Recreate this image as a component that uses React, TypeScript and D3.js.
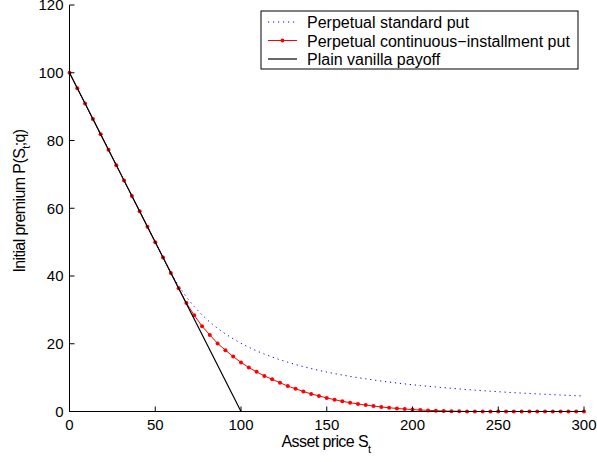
import React from 'react';
import * as d3 from 'd3';

const width = 597;
const height = 462;
const margin = { left: 69.5, right: 13, top: 5, bottom: 50.5 };

// asset price grid: 67 points from 0 to 300
const assetPrices = d3.range(67).map(i => (i * 300) / 66);

const standardPut = [
  100, 95.45, 90.91, 86.36, 81.82, 77.27, 72.73, 68.18, 63.64, 59.09, 54.55, 50.0, 45.45,
  40.96, 37.06, 33.76, 30.95, 28.52, 26.4, 24.54, 22.9, 21.44, 20.13, 18.96, 17.9, 16.94,
  16.07, 15.27, 14.54, 13.87, 13.25, 12.67, 12.14, 11.65, 11.19, 10.76, 10.36, 9.98, 9.63,
  9.3, 8.98, 8.69, 8.41, 8.15, 7.9, 7.66, 7.44, 7.23, 7.02, 6.83, 6.65, 6.47, 6.3, 6.14,
  5.99, 5.84, 5.7, 5.57, 5.44, 5.31, 5.2, 5.08, 4.97, 4.86, 4.76, 4.66, 4.57
];

const installmentPut = [
  100, 95.45, 90.91, 86.36, 81.82, 77.27, 72.73, 68.18, 63.64, 59.09, 54.55, 50.0, 45.45,
  40.91, 36.4, 32.0, 28.4, 25.2, 22.6, 20.1, 18.1, 16.2, 14.5, 13.0, 11.7, 10.5, 9.5, 8.5,
  7.5, 6.7, 5.9, 5.2, 4.6, 4.0, 3.5, 3.0, 2.6, 2.25, 1.9, 1.6, 1.35, 1.1, 0.9, 0.72, 0.57,
  0.44, 0.33, 0.24, 0.16, 0.1, 0.05, 0.02, 0, 0, 0, 0, 0, 0, 0, 0, 0, 0, 0, 0, 0, 0, 0
];

const payoffS = [0, 100, 300];
const payoffV = [100, 0, 0];

const xTicks = [0, 50, 100, 150, 200, 250, 300];
const yTicks = [0, 20, 40, 60, 80, 100, 120];

const legendLabels = [
  'Perpetual standard put',
  'Perpetual continuous\u2212installment put',
  'Plain vanilla payoff'
];

const font = '"Liberation Sans", Arial, Helvetica, sans-serif';

export default function App() {
  const x = d3.scaleLinear().domain([0, 300]).range([margin.left, width - margin.right]);
  const y = d3.scaleLinear().domain([0, 120]).range([height - margin.bottom, margin.top]);

  const line = d3
    .line<[number, number]>()
    .x(d => x(d[0]))
    .y(d => y(d[1]));

  const bluePts = assetPrices.map((s, i) => [s, standardPut[i]] as [number, number]);
  const redPts = assetPrices.map((s, i) => [s, installmentPut[i]] as [number, number]);
  const blackPts = payoffS.map((s, i) => [s, payoffV[i]] as [number, number]);

  const x0 = x(0);
  const y0 = y(0);

  const lg = { x: 261, y: 11, w: 317, h: 58 };
  const rowY = [22, 40.5, 59];

  return (
    <svg
      width={width}
      height={height}
      style={{ position: 'absolute', left: 0, top: 0, background: '#fff' }}
      fontFamily={font}
    >
      <rect width={width} height={height} fill="#fff" />

      {/* series */}
      <path d={line(bluePts) || ''} fill="none" stroke="#0000ff" strokeWidth={1} strokeDasharray="1.2 3.8" />
      <path d={line(redPts) || ''} fill="none" stroke="#ff0000" strokeWidth={1} />
      {redPts.map((d, i) => (
        <circle key={i} cx={x(d[0])} cy={y(d[1])} r={2} fill="#ff0000" />
      ))}
      <path d={line(blackPts) || ''} fill="none" stroke="#000" strokeWidth={1.2} />

      {/* axes */}
      <line x1={x0} x2={x(300)} y1={y0} y2={y0} stroke="#000" strokeWidth={1} />
      <line x1={x0} x2={x0} y1={y(0)} y2={y(120)} stroke="#000" strokeWidth={1} />
      {xTicks.map(t => (
        <g key={t}>
          <line x1={x(t)} x2={x(t)} y1={y0} y2={y0 - 5} stroke="#000" strokeWidth={1} />
          <text x={x(t)} y={y0 + 18.5} textAnchor="middle" fontSize={15} fill="#000">
            {t}
          </text>
        </g>
      ))}
      {yTicks.map(t => (
        <g key={t}>
          <line x1={x0} x2={x0 + 5} y1={y(t)} y2={y(t)} stroke="#000" strokeWidth={1} />
          <text x={x0 - 6} y={y(t) + 5.3} textAnchor="end" fontSize={15} fill="#000">
            {t}
          </text>
        </g>
      ))}

      {/* axis labels */}
      <text x={326} y={446.5} textAnchor="middle" fontSize={16} letterSpacing={-0.6} fill="#000">
        Asset price S
        <tspan fontSize={11} dy={6}>t</tspan>
      </text>
      <text
        transform={`translate(25, 201) rotate(-90)`}
        textAnchor="middle"
        fontSize={16}
        letterSpacing={-0.6}
        fill="#000"
      >
        Initial premium P(S
        <tspan fontSize={11} dy={5}>t</tspan>
        <tspan dy={-5}>;q)</tspan>
      </text>

      {/* legend */}
      <rect x={lg.x} y={lg.y} width={lg.w} height={lg.h} fill="#fff" stroke="#000" strokeWidth={1} />
      <line x1={268} x2={297} y1={rowY[0]} y2={rowY[0]} stroke="#0000ff" strokeWidth={1} strokeDasharray="1.2 3.8" />
      <line x1={268} x2={297} y1={rowY[1]} y2={rowY[1]} stroke="#ff0000" strokeWidth={1} />
      <circle cx={282.5} cy={rowY[1]} r={2} fill="#ff0000" />
      <line x1={268} x2={297} y1={rowY[2]} y2={rowY[2]} stroke="#000" strokeWidth={1.2} />
      {legendLabels.map((l, i) => (
        <text key={l} x={307} y={rowY[i] + 6} fontSize={16} fill="#000">
          {l}
        </text>
      ))}
    </svg>
  );
}
